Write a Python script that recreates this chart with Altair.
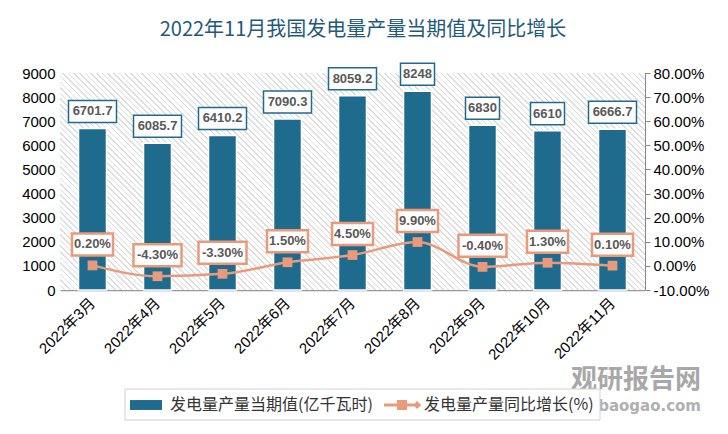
import altair as alt
import pandas as pd

months = ["2022年3月", "2022年4月", "2022年5月", "2022年6月", "2022年7月",
          "2022年8月", "2022年9月", "2022年10月", "2022年11月"]
output = [6701.7, 6085.7, 6410.2, 7090.3, 8059.2, 8248, 6830, 6610, 6666.7]
output_labels = ["6701.7", "6085.7", "6410.2", "7090.3", "8059.2", "8248", "6830", "6610", "6666.7"]
growth = [0.2, -4.3, -3.3, 1.5, 4.5, 9.9, -0.4, 1.3, 0.1]
growth_labels = ["0.20%", "-4.30%", "-3.30%", "1.50%", "4.50%", "9.90%", "-0.40%", "1.30%", "0.10%"]

title_text = "2022年11月我国发电量产量当期值及同比增长"
bar_name = "发电量产量当期值(亿千瓦时)"
line_name = "发电量产量同比增长(%)"

BAR = "#1f6b8e"
LINE = "#e99a7b"
LAB = "#595959"
NUMFONT = "Liberation Sans"
CJK = "Noto Sans CJK SC"
XFONT = "'Liberation Sans', 'Noto Sans CJK SC'"

W, H = 585, 217

df = pd.DataFrame({"month": months, "output": output, "olab": output_labels,
                   "growth": growth, "glab": growth_labels})

# box shapes: fixed pixel height, width depending on label length
def box_path(w, h):
    r = h / w
    return f"M-1,-{r:.4f}H1V{r:.4f}H-1Z"

lens = ["4", "5", "6", "7"]
bar_box_paths = [box_path(7 * int(n) + 6, 22) for n in lens]
line_box_paths = [box_path(7 * int(n) + 6, 24) for n in lens]

xenc = alt.X("month:N", sort=months,
             scale=alt.Scale(paddingInner=0.57, paddingOuter=0.285),
             axis=alt.Axis(title=None, labelAngle=-45, labelAlign="right", labelBaseline="middle",
                           labelFont=XFONT, labelFontSize=15, labelColor="#000", labelPadding=10,
                           ticks=False, domainColor="#999999", domainWidth=1.5, labelLimit=200))
xplain = alt.X("month:N", sort=months)

yL_scale = alt.Scale(domain=[0, 9000], nice=False, zero=False)
yR_scale = alt.Scale(domain=[-10, 80], nice=False, zero=False)

base = alt.Chart(df).transform_calculate(
    olen="toString(length(datum.olab))",
    osz="pow(7*length(datum.olab)+6, 2)",
    glen="toString(length(datum.glab))",
    gsz="pow(7*length(datum.glab)+6, 2)",
    s1=f"'{bar_name}'",
    s2=f"'{line_name}'",
)

# ---- hatch background of the plot area (diagonal stripes via gradient)
n_stripes = 142
stops = []
for i in range(n_stripes):
    a = i / n_stripes
    b = (i + 0.72) / n_stripes
    c = (i + 1) / n_stripes
    stops += [alt.GradientStop(color="#ffffff", offset=a), alt.GradientStop(color="#ffffff", offset=b),
              alt.GradientStop(color="#dddddd", offset=b), alt.GradientStop(color="#dddddd", offset=c)]
hatch_fill = alt.LinearGradient(gradient="linear", stops=stops, x1=0, y1=1, x2=1.205, y2=0.553)

hatch = alt.Chart(pd.DataFrame({"a": [0]})).mark_rect(fill=hatch_fill).encode(
    x=alt.value(0), x2=alt.value(W), y=alt.value(0), y2=alt.value(H))

# ---- bars (left axis)
yL_axis = alt.Axis(title=None, values=list(range(0, 9001, 1000)), format="d", domain=False,
                   ticks=False, grid=False, labelFont=NUMFONT, labelFontSize=15, labelColor="#000",
                   labelPadding=5, orient="left")
bars = base.mark_bar(stroke="white", strokeWidth=1.5).encode(
    x=xenc,
    y=alt.Y("output:Q", scale=yL_scale, axis=yL_axis),
    color=alt.Color("s1:N", scale=alt.Scale(domain=[bar_name], range=[BAR]),
                    legend=alt.Legend(title=None, orient="none", legendX=70, legendY=316,
                                      symbolType="M-1,-0.31H1V0.31H-1Z", symbolSize=1024,
                                      symbolStrokeWidth=0, labelFont=CJK, labelFontSize=16,
                                      labelColor="#333333", labelOffset=8, padding=0,
                                      labelLimit=400)),
)
bar_boxes = base.mark_point(filled=True, fill="white", stroke=BAR, strokeWidth=1.5, opacity=1,
                            yOffset=-17).encode(
    x=xplain,
    y=alt.Y("output:Q", scale=yL_scale, axis=yL_axis),
    shape=alt.Shape("olen:N", scale=alt.Scale(domain=lens, range=bar_box_paths), legend=None),
    size=alt.Size("osz:Q", scale=None, legend=None),
)
bar_text = base.mark_text(font=NUMFONT, fontSize=13, fontWeight="bold", color=LAB,
                          baseline="middle", yOffset=-17).encode(
    x=xplain,
    y=alt.Y("output:Q", scale=yL_scale, axis=yL_axis),
    text="olab:N",
)
left = alt.layer(bars, bar_boxes, bar_text)

# ---- line (right axis)
yR_axis = alt.Axis(title=None, orient="right", values=list(range(-10, 81, 10)), grid=False,
                   labelExpr="(datum.value < 0 ? '-' : '') + format(abs(datum.value), '.2f') + '%'",
                   labelFont=NUMFONT, labelFontSize=15, labelColor="#000", labelPadding=3,
                   domainColor="#888888", tickColor="#888888", tickSize=5)
line = base.mark_line(color=LINE, strokeWidth=2.5, interpolate="monotone").encode(
    x=xplain,
    y=alt.Y("growth:Q", scale=yR_scale, axis=yR_axis),
)
points = base.mark_point(filled=True, shape="square", size=95, opacity=1).encode(
    x=xplain,
    y=alt.Y("growth:Q", scale=yR_scale, axis=yR_axis),
    color=alt.Color("s2:N", scale=alt.Scale(domain=[line_name], range=[LINE]),
                    legend=alt.Legend(title=None, orient="none", legendX=324, legendY=314,
                                      symbolType="M-1,-0.083H1V0.083H-1Z M-0.28,-0.28H0.28V0.28H-0.28Z M0.62,0L0.84,-0.22L1.06,0L0.84,0.22Z",
                                      symbolSize=1296, symbolStrokeWidth=0, labelFont=CJK,
                                      labelFontSize=16, labelColor="#333333", labelOffset=4,
                                      padding=0, labelLimit=400)),
)
line_boxes = base.mark_point(filled=True, fill="white", stroke=LINE, strokeWidth=2.5, opacity=1,
                             yOffset=-21).encode(
    x=xplain,
    y=alt.Y("growth:Q", scale=yR_scale, axis=yR_axis),
    shape=alt.Shape("glen:N", scale=alt.Scale(domain=lens, range=line_box_paths), legend=None),
    size=alt.Size("gsz:Q", scale=None, legend=None),
)
line_text = base.mark_text(font=NUMFONT, fontSize=13, fontWeight="bold", color=LAB,
                           baseline="middle", yOffset=-21).encode(
    x=xplain,
    y=alt.Y("growth:Q", scale=yR_scale, axis=yR_axis),
    text="glab:N",
)
right = alt.layer(line, points, line_boxes, line_text)

# ---- decorations
one = pd.DataFrame({"t": [title_text]})
title = alt.Chart(one).mark_text(font=CJK, fontSize=20, color="#1f5a7a", align="center",
                                 baseline="middle").encode(
    text="t:N", x=alt.value(303), y=alt.value(-43))

wm1 = alt.Chart(pd.DataFrame({"t": ["观研报告网"]})).mark_text(
    font=CJK, fontSize=26, fontWeight="bold", color="#a8a8a8", align="right", baseline="middle").encode(
    text="t:N", x=alt.value(641), y=alt.value(307))
wm2 = alt.Chart(pd.DataFrame({"t": ["abaogao.com"]})).mark_text(
    font="DejaVu Sans", fontSize=15, fontWeight="bold", color="#b0b0b0", align="right",
    baseline="middle").encode(
    text="t:N", x=alt.value(641), y=alt.value(333))

legend_box = alt.Chart(pd.DataFrame({"a": [0]})).mark_rect(fill="white", stroke="#d0d0d0",
                                                           strokeWidth=1).encode(
    x=alt.value(65), x2=alt.value(540), y=alt.value(316), y2=alt.value(347))

chart = alt.layer(hatch, left, right, wm1, wm2, legend_box, title).resolve_scale(
    y="independent", color="independent"
).resolve_legend(color="independent").properties(
    width=W, height=H,
    padding={"left": 52, "top": 65, "right": 75, "bottom": 134},
    autosize=alt.AutoSizeParams(type="none"),
    background="white",
).configure_view(strokeWidth=0)

chart.save("out.html", embed_options={"renderer": "svg", "actions": False})
